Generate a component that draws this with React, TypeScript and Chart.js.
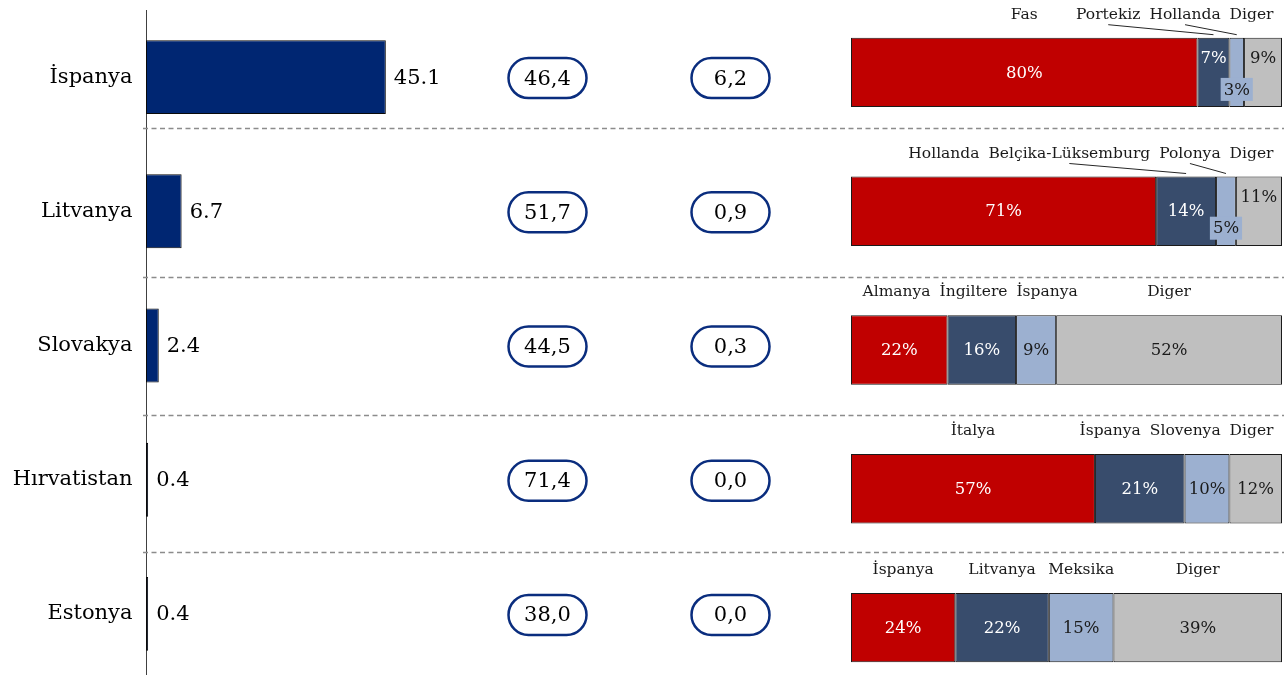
import React, { useEffect, useRef } from 'react';
import { Chart, registerables } from 'chart.js';

Chart.register(...registerables);

// ---------- data ----------
const COUNTRIES = ['İspanya', 'Litvanya', 'Slovakya', 'Hırvatistan', 'Estonya'];
const EXPORT_VALUES = [45.1, 6.7, 2.4, 0.4, 0.4];
const PILL_COL_1 = [46.4, 51.7, 44.5, 71.4, 38.0];
const PILL_COL_2 = [6.2, 0.9, 0.3, 0.0, 0.0];

const PARTNER_1 = ['Fas', 'Hollanda', 'Almanya', 'İtalya', 'İspanya'];
const PARTNER_2 = ['Portekiz', 'Belçika-Lüksemburg', 'İngiltere', 'İspanya', 'Litvanya'];
const PARTNER_3 = ['Hollanda', 'Polonya', 'İspanya', 'Slovenya', 'Meksika'];
const PARTNER_4 = ['Diger', 'Diger', 'Diger', 'Diger', 'Diger'];

const SHARE_1 = [80.4, 70.8, 22.4, 56.6, 24.2];
const SHARE_2 = [7.4, 13.9, 15.9, 20.8, 21.7];
const SHARE_3 = [3.4, 4.6, 9.3, 10.4, 15.0];
const SHARE_4 = [8.8, 10.7, 52.4, 12.2, 39.1];

// ---------- layout / style ----------
const W = 1284;
const H = 675;
const SERIF = '"DejaVu Serif", serif';
const PILL_X = [547.5, 730.5];
const PILL_W = 78;
const PILL_H = 40;
const SEPARATORS = [0.378, 1.49, 2.52, 3.537];
const SEG_COLORS = ['#C00000', '#384C6C', '#9CB0D0', '#BFBFBF'];
const SEG_TEXT = ['#FFFFFF', '#FFFFFF', '#1A1A1A', '#1A1A1A'];
const PARTNERS = [PARTNER_1, PARTNER_2, PARTNER_3, PARTNER_4];
const SHARES = [SHARE_1, SHARE_2, SHARE_3, SHARE_4];

const fmtComma = (v: number) => v.toFixed(1).replace('.', ',');

function pillPath(ctx: CanvasRenderingContext2D, cx: number, cy: number, w: number, h: number) {
  const r = h / 2;
  ctx.beginPath();
  ctx.moveTo(cx - w / 2 + r, cy - r);
  ctx.lineTo(cx + w / 2 - r, cy - r);
  ctx.arc(cx + w / 2 - r, cy, r, -Math.PI / 2, Math.PI / 2);
  ctx.lineTo(cx - w / 2 + r, cy + r);
  ctx.arc(cx - w / 2 + r, cy, r, Math.PI / 2, (3 * Math.PI) / 2);
  ctx.closePath();
}

const leftPlugin = {
  id: 'leftDecor',
  beforeDatasetsDraw(chart: any) {
    const ctx = chart.ctx as CanvasRenderingContext2D;
    const ys = chart.scales.y;
    ctx.save();
    ctx.strokeStyle = '#8C8C8C';
    ctx.lineWidth = 1.3;
    ctx.setLineDash([5, 3.5]);
    SEPARATORS.forEach((v) => {
      const py = Math.round(ys.getPixelForValue(v)) + 0.5;
      ctx.beginPath();
      ctx.moveTo(chart.chartArea.left - 3, py);
      ctx.lineTo(W, py);
      ctx.stroke();
    });
    ctx.restore();
  },
  afterDatasetsDraw(chart: any) {
    const ctx = chart.ctx as CanvasRenderingContext2D;
    const meta = chart.getDatasetMeta(0);
    ctx.save();
    ctx.font = `21px ${SERIF}`;
    ctx.textBaseline = 'middle';
    meta.data.forEach((bar: any, i: number) => {
      const p = bar.getProps(['x', 'y'], true);
      ctx.fillStyle = '#000';
      ctx.textAlign = 'left';
      ctx.fillText(EXPORT_VALUES[i].toFixed(1), p.x + 8, p.y + 1);
      [PILL_COL_1, PILL_COL_2].forEach((col, c) => {
        const cx = PILL_X[c];
        const cy = p.y + 1;
        pillPath(ctx, cx, cy, PILL_W, PILL_H);
        ctx.fillStyle = '#FFFFFF';
        ctx.fill();
        ctx.lineWidth = 2.5;
        ctx.strokeStyle = '#0A2D7E';
        ctx.stroke();
        ctx.fillStyle = '#000';
        ctx.textAlign = 'center';
        ctx.fillText(fmtComma(col[i]), cx, cy + 1);
      });
    });
    ctx.restore();
  },
};

function spread(centers: number[], widths: number[], minX: number, maxX: number, gap: number) {
  const L = centers.map((c, i) => c - widths[i] / 2);
  const clamp = () => {
    for (let i = 0; i < L.length; i++) L[i] = Math.max(minX, Math.min(maxX - widths[i], L[i]));
  };
  for (let it = 0; it < 800; it++) {
    clamp();
    let moved = false;
    for (let i = 0; i < L.length - 1; i++) {
      const ov = L[i] + widths[i] + gap - L[i + 1];
      if (ov > 0.01) {
        L[i] -= ov / 2;
        L[i + 1] += ov / 2;
        moved = true;
      }
    }
    if (!moved) break;
  }
  clamp();
  return L;
}

const rightPlugin = {
  id: 'rightDecor',
  afterDatasetsDraw(chart: any) {
    const ctx = chart.ctx as CanvasRenderingContext2D;
    const area = chart.chartArea;
    ctx.save();
    for (let i = 0; i < COUNTRIES.length; i++) {
      const segs = SHARES.map((_, k) => {
        const el = chart.getDatasetMeta(k).data[i];
        const p = el.getProps(['x', 'y', 'base', 'height'], true);
        const left = Math.min(p.x, p.base);
        const right = Math.max(p.x, p.base);
        return { left, right, cx: (left + right) / 2, cy: p.y, h: p.height };
      });
      const cy = segs[0].cy;
      const h = segs[0].h;
      const top = cy - h / 2;

      // percent labels
      ctx.font = `16.5px ${SERIF}`;
      ctx.textBaseline = 'middle';
      ctx.textAlign = 'center';
      const texts = SHARES.map((s) => `${Math.round(s[i])}%`);
      const tw = texts.map((t) => ctx.measureText(t).width);
      const narrow = segs.map((s, k) => tw[k] > s.right - s.left);
      const boxes = segs.map((s, k) => (narrow[k] ? { l: s.cx - tw[k] / 2 - 3, r: s.cx + tw[k] / 2 + 3 } : null));
      segs.forEach((s, k) => {
        if (narrow[k]) return;
        const l = s.cx - tw[k] / 2;
        const r = s.cx + tw[k] / 2;
        const hit = boxes.some((b) => b && b.l < r && b.r > l);
        ctx.fillStyle = SEG_TEXT[k];
        ctx.fillText(texts[k], s.cx, hit ? cy - h * 0.2 : cy + 1);
      });
      segs.forEach((s, k) => {
        if (!narrow[k]) return;
        const by = cy + h * 0.245;
        const bw = tw[k] + 6;
        ctx.fillStyle = SEG_COLORS[k];
        ctx.fillRect(s.cx - bw / 2, by - 11.5, bw, 23);
        ctx.fillStyle = SEG_TEXT[k];
        ctx.fillText(texts[k], s.cx, by + 1);
      });

      // partner names
      ctx.font = `15.5px ${SERIF}`;
      const names = PARTNERS.map((p) => p[i]);
      const nw = names.map((n) => ctx.measureText(n).width);
      const L = spread(segs.map((s) => s.cx), nw, area.left, area.right - 8.5, 9);
      const ny = top - 23;
      names.forEach((n, k) => {
        const c = L[k] + nw[k] / 2;
        ctx.fillStyle = '#1A1A1A';
        ctx.textAlign = 'center';
        ctx.fillText(n, c, ny);
        const s = segs[k];
        if (c < s.left || c > s.right) {
          ctx.strokeStyle = '#262626';
          ctx.lineWidth = 1;
          ctx.beginPath();
          ctx.moveTo(c, ny + 10);
          ctx.lineTo(s.cx, top - 3);
          ctx.stroke();
        }
      });
    }
    ctx.restore();
  },
};

export default function App() {
  const leftRef = useRef<HTMLCanvasElement | null>(null);
  const rightRef = useRef<HTMLCanvasElement | null>(null);

  useEffect(() => {
    if (!leftRef.current || !rightRef.current) return;
    const left = new Chart(leftRef.current, {
      type: 'bar',
      data: {
        labels: COUNTRIES,
        datasets: [
          {
            data: EXPORT_VALUES,
            backgroundColor: '#002672',
            borderColor: '#0A0A0A',
            borderWidth: 1,
            borderSkipped: false,
            barPercentage: 0.551,
            categoryPercentage: 1,
          },
        ],
      },
      options: {
        indexAxis: 'y',
        responsive: false,
        animation: false,
        events: [],
        layout: { padding: { top: 10, bottom: 9, left: 0, right: 0 } },
        plugins: { legend: { display: false }, tooltip: { enabled: false } },
        scales: {
          x: { display: false, min: 0, max: 214 },
          y: {
            afterFit: (s: any) => {
              s.width = 146;
              s.paddingTop = 0;
              s.paddingBottom = 0;
            },
            grid: { display: false, drawTicks: false },
            border: { display: true, color: '#404040', width: 1 },
            ticks: { padding: 13.5, color: '#000', font: { family: SERIF, size: 21 } },
          },
        },
      },
      plugins: [leftPlugin],
    } as any);

    const right = new Chart(rightRef.current, {
      type: 'bar',
      data: {
        labels: COUNTRIES,
        datasets: SHARES.map((d, k) => ({
          data: d,
          backgroundColor: SEG_COLORS[k],
          borderColor: '#1A1A1A',
          borderWidth: 1,
          borderSkipped: false,
          barPercentage: 0.5,
          categoryPercentage: 1,
        })),
      },
      options: {
        indexAxis: 'y',
        responsive: false,
        animation: false,
        events: [],
        layout: { padding: { top: 3, bottom: 3, left: 851, right: 2 } },
        plugins: { legend: { display: false }, tooltip: { enabled: false } },
        scales: {
          x: { display: false, stacked: true, min: 0, max: 100 },
          y: { display: false, stacked: true },
        },
      },
      plugins: [rightPlugin],
    } as any);

    return () => {
      left.destroy();
      right.destroy();
    };
  }, []);

  return (
    <div
      style={{
        position: 'fixed',
        left: 0,
        top: 0,
        width: W,
        height: H,
        overflow: 'hidden',
        background: '#FFFFFF',
      }}
    >
      <canvas ref={leftRef} width={W} height={690} style={{ position: 'absolute', left: 0, top: 0 }} />
      <canvas ref={rightRef} width={W} height={700} style={{ position: 'absolute', left: 0, top: 0 }} />
    </div>
  );
}
